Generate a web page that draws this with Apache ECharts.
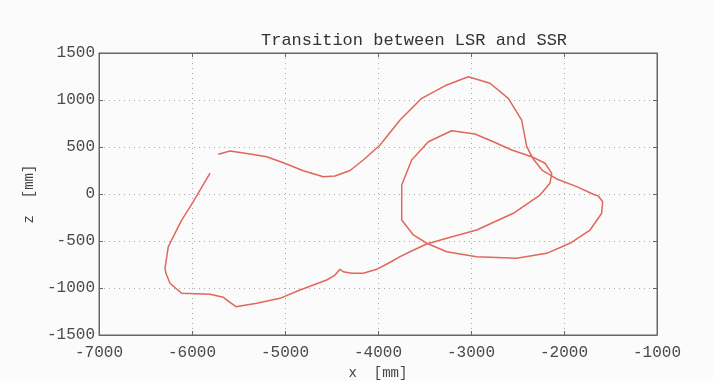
<!DOCTYPE html>
<html>
<head>
<meta charset="utf-8">
<script src="https://cdn.jsdelivr.net/npm/echarts@6/dist/echarts.min.js"></script>
<style>
html,body{margin:0;padding:0;background:#fbfbfb;}
#c{width:713px;height:381px;}
</style>
</head>
<body>
<div id="c"></div>
<script>
// trajectory (x [mm], z [mm]) in path order
const xs = [-5717,-5591,-5376,-5197,-5018,-4803,-4588,-4462,-4301,-4158,-3978,-3763,-3530,-3261,-3029,-2796,-2599,-2455,-2401,-2330,-2237,-2078,-1863,-1685,-1631,-1584,-1595,-1720,-1936,-2186,-2509,-2939,-3261,-3476,-3620,-3745,-3745,-3638,-3459,-3208,-2957,-2760,-2562,-2347,-2204,-2132,-2151,-2258,-2545,-2939,-3261,-3476,-3656,-3763,-3889,-4014,-4158,-4283,-4373,-4409,-4462,-4552,-4839,-5054,-5304,-5527,-5591,-5663,-5806,-6111,-6237,-6280,-6290,-6255,-6201,-6111,-5986,-5806];
const zs = [422,457,426,397,333,248,184,192,250,362,521,787,1018,1160,1248,1178,1018,787,503,372,255,160,78,-3,-21,-82,-205,-383,-524,-631,-684,-667,-614,-524,-436,-277,96,362,556,673,638,556,468,397,327,220,114,-11,-205,-383,-471,-532,-614,-667,-737,-801,-844,-844,-827,-801,-862,-915,-1021,-1110,-1163,-1199,-1152,-1099,-1067,-1056,-950,-844,-790,-561,-454,-277,-82,223];
const title = 'Transition between LSR and SSR';
const xName = 'x  [mm]';
const yName = 'z  [mm]';

const data = xs.map((x, i) => [x, zs[i]]);
const font = 'Liberation Mono';
const fmt = v => String(v);
const gridLine = {show: true, lineStyle: {color: '#aaa', type: [1, 4], width: 1}};
const chart = echarts.init(document.getElementById('c'));
chart.setOption({
  backgroundColor: '#fbfbfb',
  animation: false,
  title: {
    text: title, left: 256, top: 27,
    textStyle: {fontFamily: font, fontSize: 17, fontWeight: 'normal', color: '#333'}
  },
  grid: {left: 99, right: 56, top: 53, bottom: 46, show: true, borderColor: '#666', borderWidth: 1,
         containLabel: false, outerBoundsMode: 'none'},
  xAxis: [{
    type: 'value', min: -7000, max: -1000, interval: 1000, position: 'bottom',
    name: xName, nameLocation: 'middle', nameGap: 28,
    nameTextStyle: {fontFamily: font, fontSize: 14, color: '#444'},
    axisLine: {show: true, onZero: false, lineStyle: {color: '#666'}},
    axisTick: {show: true, inside: true, length: 4, lineStyle: {color: '#666'}},
    axisLabel: {fontFamily: font, fontSize: 16, color: '#4a4a4a', margin: 10, formatter: fmt},
    splitLine: gridLine
  }, {
    type: 'value', min: -7000, max: -1000, interval: 1000, position: 'top',
    axisLine: {show: true, onZero: false, lineStyle: {color: '#666'}},
    axisTick: {show: true, inside: true, length: 4, lineStyle: {color: '#666'}},
    axisLabel: {show: false}, splitLine: {show: false}
  }],
  yAxis: [{
    type: 'value', min: -1500, max: 1500, interval: 500, position: 'left',
    name: yName, nameLocation: 'middle', nameGap: 62, nameRotate: 90,
    nameTextStyle: {fontFamily: font, fontSize: 14, color: '#444'},
    axisLine: {show: true, onZero: false, lineStyle: {color: '#666'}},
    axisTick: {show: true, inside: true, length: 4, lineStyle: {color: '#666'}},
    axisLabel: {fontFamily: font, fontSize: 16, color: '#4a4a4a', margin: 4, formatter: fmt},
    splitLine: gridLine
  }, {
    type: 'value', min: -1500, max: 1500, interval: 500, position: 'right',
    axisLine: {show: true, onZero: false, lineStyle: {color: '#666'}},
    axisTick: {show: true, inside: true, length: 4, lineStyle: {color: '#666'}},
    axisLabel: {show: false}, splitLine: {show: false}
  }],
  series: [{
    type: 'line', data: data, showSymbol: false, smooth: false,
    xAxisIndex: 0, yAxisIndex: 0,
    lineStyle: {color: '#e0675c', width: 1.5}
  }]
});
</script>
</body>
</html>
